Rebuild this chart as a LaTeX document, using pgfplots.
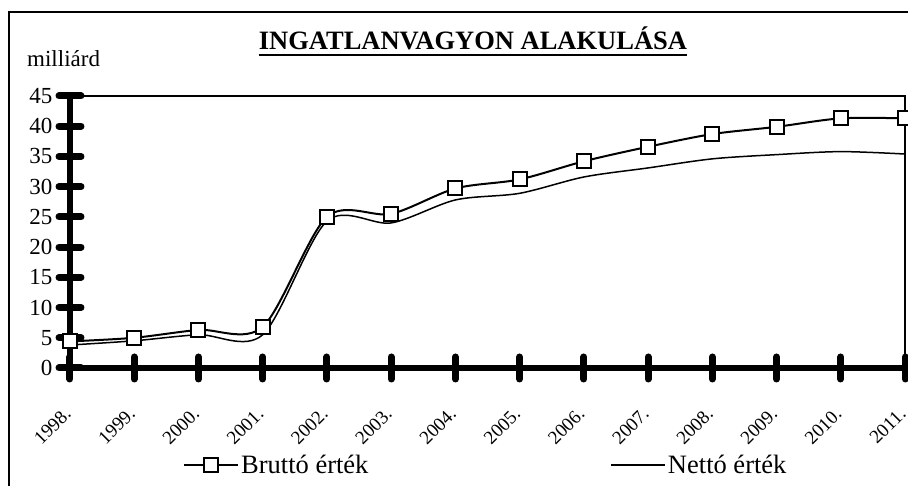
\documentclass[border=0pt]{standalone}
\usepackage{fontspec}
\setmainfont{Liberation Serif}
\usepackage{pgfplots}
\pgfplotsset{compat=1.18}
\begin{document}
\begin{tikzpicture}[x=1pt,y=1pt]
\draw[line width=1.5pt] (9,0) -- (9,474) -- (908,474);
\node[anchor=base west, inner sep=0pt, font=\fontsize{23}{25}\selectfont] at (27,419) {milliárd};
\node[anchor=base, inner sep=0pt, font=\fontsize{26.5}{28}\selectfont\bfseries] (T) at (473,436) {INGATLANVAGYON ALAKULÁSA};
\draw[line width=2.5pt] ([yshift=-5pt]T.base west) -- ([yshift=-5pt]T.base east);
\begin{axis}[
  at={(70pt,118pt)}, anchor=south west,
  scale only axis, width=835pt, height=272pt,
  xmin=0, xmax=13, ymin=0, ymax=45,
  axis x line*=bottom, axis y line*=left,
  axis line style={line width=6.5pt, line cap=round, -},
  xtick={0,...,13},
  xticklabels={1998.,1999.,2000.,2001.,2002.,2003.,2004.,2005.,2006.,2007.,2008.,2009.,2010.,2011.},
  ytick={0,5,...,45},
  tick align=center,
  major tick length=22pt,
  tick style={line width=7pt, line cap=round, black},
  /pgf/number format/assume math mode=true,
  yticklabel style={font=\fontsize{23}{25}\selectfont, inner sep=0pt, anchor=east, xshift=-6.5pt},
  xticklabel style={font=\fontsize{19}{21}\selectfont, xshift=-7pt, yshift=-27pt, rotate=45, anchor=north east, inner sep=0pt},
  legend columns=2,
  legend style={at={(0.1353,-0.3566)}, anchor=west, draw=none, fill=none, inner sep=0pt,
    font=\fontsize{26.5}{28}\selectfont,
    /tikz/every even column/.append style={column sep=240pt}},
  legend image code/.code={\draw[mark repeat=2,mark phase=2,#1] plot coordinates {(0pt,0pt) (27pt,0pt) (54pt,0pt)};},
  clip=false,
]
\addplot[black, line width=2pt, smooth, mark=square*, mark size=7pt, mark options={fill=white, line width=2pt, solid}]
  coordinates {(0,4.4) (1,5.0) (2,6.3) (3,6.8) (4,25.0) (5,25.5) (6,29.7) (7,31.2) (8,34.2) (9,36.6) (10,38.7) (11,39.9) (12,41.3) (13,41.3)};
\addlegendentry{Bruttó érték}
\addplot[black, line width=1.5pt, smooth, no marks]
  coordinates {(0,3.8) (1,4.5) (2,5.5) (3,5.5) (4,24.3) (5,24.0) (6,27.8) (7,28.9) (8,31.6) (9,33.1) (10,34.6) (11,35.3) (12,35.8) (13,35.4)};
\addlegendentry{Nettó érték}
\draw[line width=1.5pt] (rel axis cs:0,1) -- (rel axis cs:1,1) -- (rel axis cs:1,0);
\end{axis}
\pgfresetboundingbox
\path (0,0) rectangle (908,486);
\end{tikzpicture}
\end{document}
